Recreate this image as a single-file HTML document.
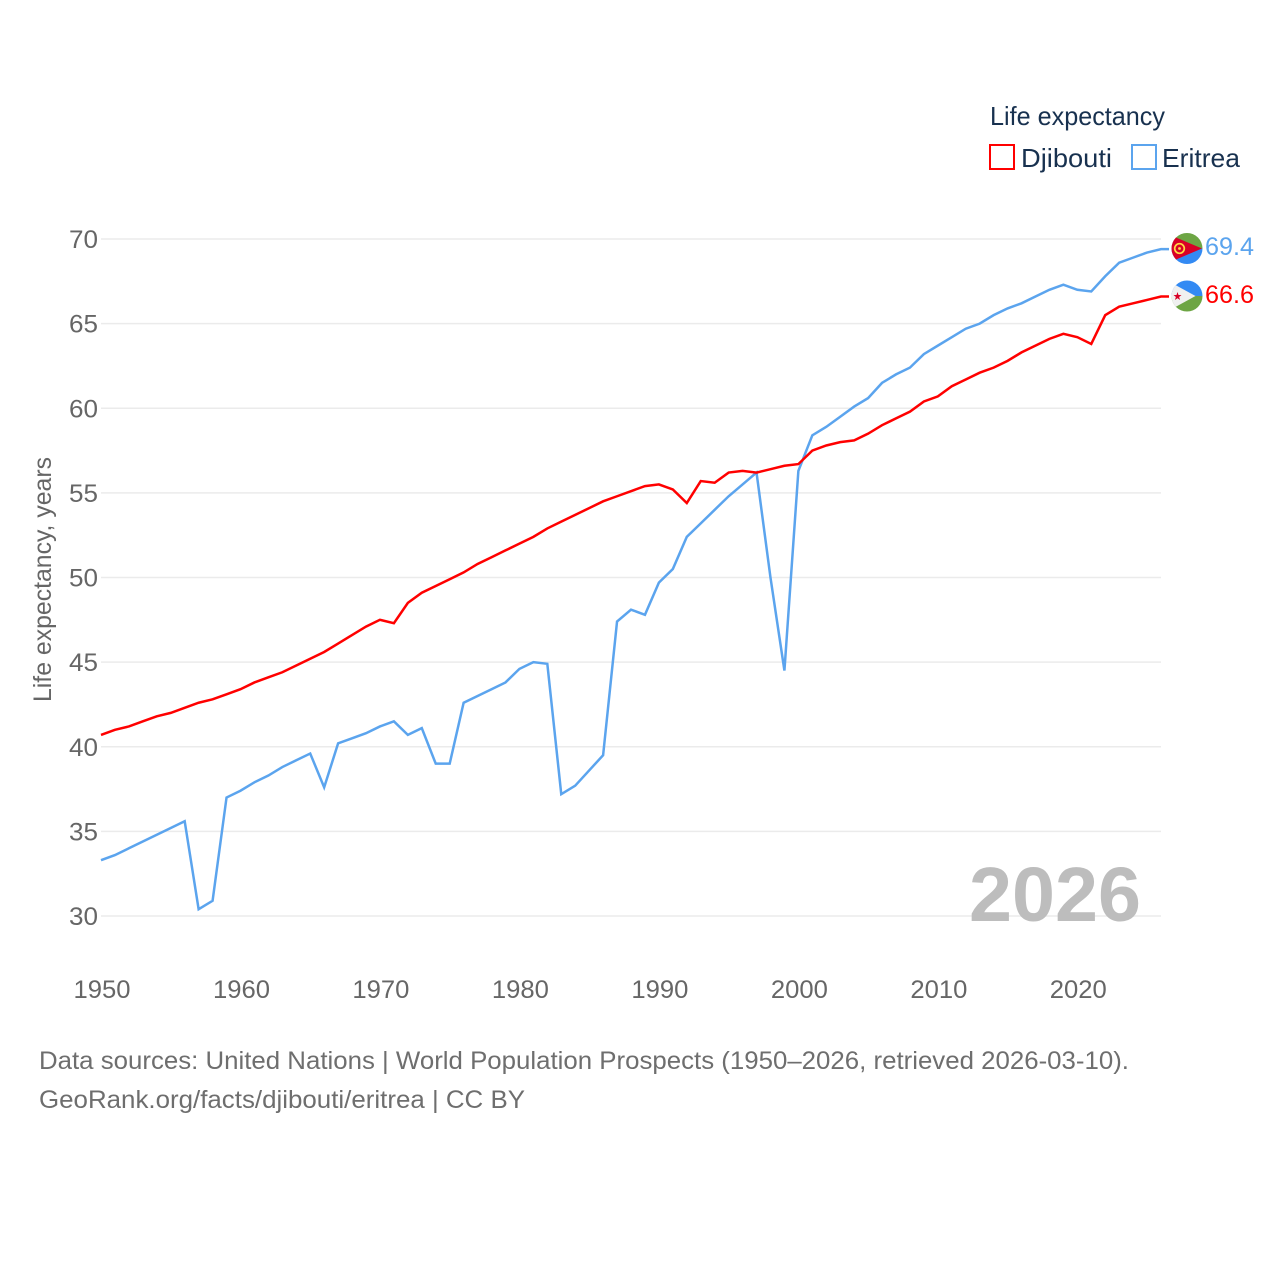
<!DOCTYPE html>
<html lang="en">
<head>
<meta charset="utf-8">
<title>Life expectancy: Djibouti and Eritrea</title>
<style>
html,body{margin:0;padding:0;background:#fff;width:1280px;height:1280px;overflow:hidden}
svg{display:block}
text{font-family:"Liberation Sans",sans-serif}
</style>
</head>
<body>
<svg id="chart" xmlns="http://www.w3.org/2000/svg" width="1280" height="1280" viewBox="0 0 1280 1280">
  <rect x="0" y="0" width="1280" height="1280" fill="#fff"/>
  <g id="grid"></g>
  <g id="yticks"></g>
  <g id="xticks"></g>
  <text transform="translate(51,702) rotate(-90)" font-size="25" fill="#666" textLength="245" lengthAdjust="spacingAndGlyphs">Life expectancy, years</text>
  <text x="969" y="921" font-size="77" font-weight="bold" fill="#bdbdbd" textLength="172" lengthAdjust="spacingAndGlyphs">2026</text>
  <g id="series"></g>

  <defs>
    <clipPath id="clip-er"><circle cx="1187" cy="248.5" r="15.5"/></clipPath>
    <clipPath id="clip-dj"><circle cx="1187" cy="296" r="15.5"/></clipPath>
  </defs>
  <g clip-path="url(#clip-er)">
    <rect x="1171" y="233" width="32" height="15.5" fill="#6da544"/>
    <rect x="1171" y="248.5" width="32" height="16" fill="#338af3"/>
    <polygon points="1170,235 1202,248.5 1170,262" fill="#d80027"/>
    <circle cx="1179.5" cy="248.5" r="4.8" fill="none" stroke="#ffda44" stroke-width="1.7"/>
    <circle cx="1179.5" cy="248.5" r="1.4" fill="#ffda44"/>
  </g>
  <g clip-path="url(#clip-dj)">
    <rect x="1171" y="280" width="32" height="16" fill="#338af3"/>
    <rect x="1171" y="296" width="32" height="16" fill="#6da544"/>
    <polygon points="1170,282 1170,310 1195.5,296" fill="#f0f0f0"/>
    <polygon points="1177.5,292 1178.5,295 1181.5,295 1179.1,297 1180.1,300 1177.5,298.2 1174.9,300 1175.9,297 1173.5,295 1176.5,295" fill="#d80027"/>
  </g>
  <text x="1205" y="255" font-size="25" fill="#5ba4ee" textLength="49" lengthAdjust="spacingAndGlyphs">69.4</text>
  <text x="1205" y="303" font-size="25" fill="#ff0000" textLength="49" lengthAdjust="spacingAndGlyphs">66.6</text>

  <g>
    <text x="990" y="125" font-size="26" fill="#18314f" textLength="175" lengthAdjust="spacingAndGlyphs">Life expectancy</text>
    <rect x="990" y="145" width="24" height="24" fill="none" stroke="#ff0000" stroke-width="2"/>
    <text x="1021" y="167" font-size="26" fill="#18314f" textLength="91" lengthAdjust="spacingAndGlyphs">Djibouti</text>
    <rect x="1132" y="145" width="24" height="24" fill="none" stroke="#5ba4ee" stroke-width="2"/>
    <text x="1162" y="167" font-size="26" fill="#18314f" textLength="78" lengthAdjust="spacingAndGlyphs">Eritrea</text>
  </g>

  <text x="39" y="1069" font-size="25" fill="#6e6e6e" textLength="1090" lengthAdjust="spacingAndGlyphs">Data sources: United Nations | World Population Prospects (1950–2026, retrieved 2026-03-10).</text>
  <text x="39" y="1108" font-size="25" fill="#6e6e6e" textLength="486" lengthAdjust="spacingAndGlyphs">GeoRank.org/facts/djibouti/eritrea | CC BY</text>
</svg>
<script>
var firstYear = 1950;
var lastYear = 2026;
var yTickLabels = [30, 35, 40, 45, 50, 55, 60, 65, 70];
var xTickLabels = [1950, 1960, 1970, 1980, 1990, 2000, 2010, 2020];
var djibouti = [40.7,41.0,41.2,41.5,41.8,42.0,42.3,42.6,42.8,43.1,43.4,43.8,44.1,44.4,44.8,45.2,45.6,46.1,46.6,47.1,47.5,47.3,48.5,49.1,49.5,49.9,50.3,50.8,51.2,51.6,52.0,52.4,52.9,53.3,53.7,54.1,54.5,54.8,55.1,55.4,55.5,55.2,54.4,55.7,55.6,56.2,56.3,56.2,56.4,56.6,56.7,57.5,57.8,58.0,58.1,58.5,59.0,59.4,59.8,60.4,60.7,61.3,61.7,62.1,62.4,62.8,63.3,63.7,64.1,64.4,64.2,63.8,65.5,66.0,66.2,66.4,66.6];
var eritrea = [33.3,33.6,34.0,34.4,34.8,35.2,35.6,30.4,30.9,37.0,37.4,37.9,38.3,38.8,39.2,39.6,37.6,40.2,40.5,40.8,41.2,41.5,40.7,41.1,39.0,39.0,42.6,43.0,43.4,43.8,44.6,45.0,44.9,37.2,37.7,38.6,39.5,47.4,48.1,47.8,49.7,50.5,52.4,53.2,54.0,54.8,55.5,56.2,50.0,44.5,56.3,58.4,58.9,59.5,60.1,60.6,61.5,62.0,62.4,63.2,63.7,64.2,64.7,65.0,65.5,65.9,66.2,66.6,67.0,67.3,67.0,66.9,67.8,68.6,68.9,69.2,69.4];

var NS = 'http://www.w3.org/2000/svg';
function xScale(year) { return 101 + (year - firstYear) * (1161 - 101) / (lastYear - firstYear); }
function yScale(v) { return 916 - (v - 30) * (916 - 239) / 40; }
function make(tag, attrs, parent) {
  var el = document.createElementNS(NS, tag);
  for (var k in attrs) el.setAttribute(k, attrs[k]);
  parent.appendChild(el);
  return el;
}

var grid = document.getElementById('grid');
var yticks = document.getElementById('yticks');
var xticks = document.getElementById('xticks');
var series = document.getElementById('series');

yTickLabels.forEach(function (v) {
  var line = make('line', {x1: 101, x2: 1161, y1: yScale(v), y2: yScale(v), stroke: '#ebebeb', 'stroke-width': 1.5}, grid);
  
  
  var label = make('text', {x: 98, y: yScale(v) + 9, 'text-anchor': 'end', 'font-size': 25, fill: '#666', textLength: 29, lengthAdjust: 'spacingAndGlyphs'}, yticks);
  label.textContent = v;
  
  
});

xTickLabels.forEach(function (year) {
  var label = make('text', {x: xScale(year) + 1, y: 998, 'text-anchor': 'middle', 'font-size': 25, fill: '#666', textLength: 57, lengthAdjust: 'spacingAndGlyphs'}, xticks);
  label.textContent = year;
  
  
});

function drawSeries(values, color) {
  var pts = values.map(function (v, i) { return xScale(firstYear + i).toFixed(2) + ',' + yScale(v).toFixed(2); });
  var lastY = yScale(values[values.length - 1]);
  pts.push('1169,' + lastY.toFixed(2));
  return make('polyline', {points: pts.join(' '), fill: 'none', stroke: color, 'stroke-width': 2.5, 'stroke-linejoin': 'miter'}, series);
}

var eritreaLine = drawSeries(eritrea, '#5ba4ee');


var djiboutiLine = drawSeries(djibouti, '#ff0000');


</script>
</body>
</html>
